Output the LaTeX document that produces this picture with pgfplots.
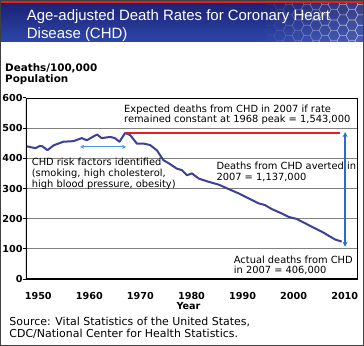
\documentclass[border=0pt]{standalone}
\usepackage{pgfplots}
\pgfplotsset{compat=1.18}
\usepackage{fontspec}
\setmainfont{DejaVu Sans}
\newfontfamily\titlefont{Liberation Sans}
\usetikzlibrary{arrows.meta}
\definecolor{navy}{RGB}{26,34,116}
\definecolor{bannerbot}{RGB}{46,70,170}
\definecolor{lineblue}{RGB}{60,64,150}
\definecolor{chdred}{RGB}{230,30,36}
\definecolor{arrowblue}{RGB}{40,110,200}
\definecolor{arrowlight}{RGB}{75,150,222}
\definecolor{gridgray}{RGB}{128,128,128}
\begin{document}
\begin{tikzpicture}
\useasboundingbox (0bp,0bp) rectangle (364bp,346bp);
\fill[white] (0bp,0bp) rectangle (364bp,346bp);
% banner
\shade[top color=navy, bottom color=bannerbot] (0bp,304bp) rectangle (364bp,343bp);
\begin{scope}
\clip (262bp,304bp) rectangle (364bp,343bp);
\foreach \i in {0,...,11} {
  \foreach \j in {0,...,4} {
    \pgfmathsetmacro\cx{262+9*\i}
    \pgfmathsetmacro\cy{300+10.39*\j+mod(\i,2)*5.2}
    \pgfmathsetmacro\op{0.035*\i}
    \draw[white, draw opacity=\op, fill=white, fill opacity=\op*0.35, line width=0.6bp]
      (\cx bp+6bp,\cy bp) -- ++(120:6bp) -- ++(180:6bp) -- ++(240:6bp) -- ++(300:6bp) -- ++(0:6bp) -- cycle;
  }
}
\end{scope}
\fill[chdred] (0bp,343bp) rectangle (364bp,346bp);
\node[anchor=base west, inner sep=0pt, text=white, font=\titlefont\fontsize{15}{18}\selectfont] at (26.7bp,325.4bp) {Age-adjusted Death Rates for Coronary Heart};
\node[anchor=base west, inner sep=0pt, text=white, font=\titlefont\fontsize{15}{18}\selectfont] at (26.7bp,307.6bp) {Disease (CHD)};
% y label
\node[anchor=base west, inner sep=0pt, font=\bfseries\fontsize{10.4}{11}\selectfont] at (5bp,274.3bp) {Deaths/100,000};
\node[anchor=base west, inner sep=0pt, font=\bfseries\fontsize{10.4}{11}\selectfont] at (5bp,263.3bp) {Population};
\begin{axis}[
  at={(26bp,67bp)}, anchor=south west, scale only axis,
  width=331bp, height=181bp,
  xmin=1947.6, xmax=2012.4, ymin=0, ymax=600,
  xtick={1950,1960,...,2010}, ytick={0,100,...,600},
  ymajorgrids, grid style={gridgray, line width=0.8bp},
  axis line style={black, line width=0.9bp},
  xtick style={draw=none},
  ytick style={black, line width=1bp},
  ytick pos=left,
  tick align=outside, major tick length=3.3bp,
  /pgf/number format/assume math mode=true,
  /pgf/number format/1000 sep={},
  xticklabel style={font=\bfseries\fontsize{9.7}{10}\selectfont, inner sep=0pt, anchor=north, yshift=-10.3bp},
  yticklabel style={font=\bfseries\fontsize{9.7}{10}\selectfont, inner sep=0pt, anchor=east},
]
\addplot[lineblue, line width=2bp, line join=round] coordinates {
(1947.7,440) (1948.8,436) (1949.5,434) (1950.3,441) (1950.8,440) (1951.8,427)
(1953.0,443) (1954.9,455) (1956.9,457) (1958.5,467) (1959.5,460) (1961.5,479)
(1962.4,467) (1964.1,471) (1965.0,467) (1965.9,455) (1967.0,484) (1968.0,477)
(1969.3,449) (1970.6,449) (1971.9,444) (1973.2,427) (1974.5,394) (1975.8,381)
(1977.1,366) (1978.1,361) (1979.1,344) (1980.1,350) (1981.4,333) (1983.4,322)
(1985.3,313) (1987.3,298) (1989.2,284) (1991.2,267) (1993.1,251) (1994.4,245)
(1995.7,232) (1997.7,217) (1999.0,206) (2000.6,199) (2002.9,179) (2005.5,157)
(2008.1,131) (2009.4,124)
};
\addplot[chdred, line width=2bp] coordinates {(1967,484) (2009,484)};
\draw[arrowblue, line width=1.5bp, {Stealth[length=5bp,width=5bp]}-{Stealth[length=5bp,width=5bp]}]
  (axis cs:2010.07,487) -- (axis cs:2010.07,107);
\draw[arrowlight, line width=1bp, {Stealth[length=4bp,width=4bp]}-{Stealth[length=4bp,width=4bp]}]
  (axis cs:1958.2,438) -- (axis cs:1967.2,438);
\draw[black, line width=1.8bp] (rel axis cs:0,1) -- (rel axis cs:0,0) -- (rel axis cs:1,0);
\end{axis}
% annotations
\node[anchor=base west, inner sep=0pt, font=\fontsize{9.9}{10.7}\selectfont] at (124bp,233.7bp)
  {\begin{tabular}[t]{@{}l@{}}Expected deaths from CHD in 2007 if rate\\remained constant at 1968 peak = 1,543,000\end{tabular}};
\node[anchor=base west, inner sep=0pt, font=\fontsize{9.9}{10.7}\selectfont] at (31.7bp,180bp)
  {\begin{tabular}[t]{@{}l@{}}CHD risk factors identified\\(smoking, high cholesterol,\\high blood pressure, obesity)\end{tabular}};
\node[anchor=base west, inner sep=0pt, font=\fontsize{9.9}{10.7}\selectfont] at (216.3bp,176bp)
  {\begin{tabular}[t]{@{}l@{}}Deaths from CHD averted in\\2007 = 1,137,000\end{tabular}};
\node[anchor=base west, inner sep=0pt, font=\fontsize{9.9}{10.7}\selectfont] at (233.7bp,82.7bp)
  {\begin{tabular}[t]{@{}l@{}}Actual deaths from CHD\\in 2007 = 406,000\end{tabular}};
\node[anchor=base, inner sep=0pt, font=\bfseries\fontsize{9.7}{10}\selectfont] at (188.5bp,36.4bp) {Year};
\node[anchor=base west, inner sep=0pt, font=\fontsize{11}{12.7}\selectfont] at (9.3bp,21bp)
  {\begin{tabular}[t]{@{}l@{}}Source: Vital Statistics of the United States,\\CDC/National Center for Health Statistics.\end{tabular}};
\draw[black!75, line width=1bp] (0.5bp,0.5bp) rectangle (363.5bp,345.5bp);
\end{tikzpicture}
\end{document}
